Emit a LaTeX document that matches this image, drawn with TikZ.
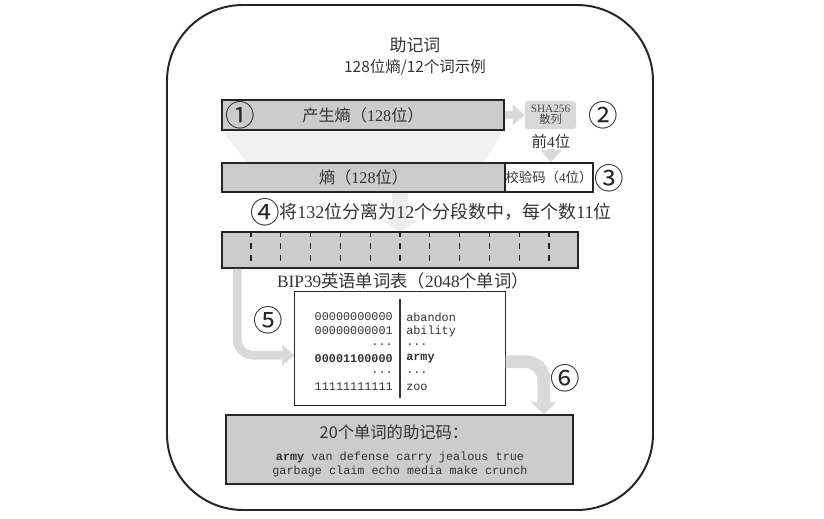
\documentclass[tikz,border=0pt]{standalone}
\usepackage{fontspec}
\setmainfont{Liberation Serif}
\setmonofont{Liberation Mono}
\newfontfamily\cjk{Noto Sans CJK SC}
\usepackage{tikz}
\usetikzlibrary{arrows.meta, positioning, calc}
\newcommand{\zh}[1]{{\cjk #1}}
\newcommand{\tdots}{...}

\begin{document}
\begin{tikzpicture}[x=0.025cm, y=-0.025cm,
	box/.style={draw=black!85, line width=1.1pt, fill=black!20, inner sep=0pt, text=black!80, font=\fontsize{11.5}{13}\selectfont},
	whitebox/.style={box, fill=white},
	hashbox/.style={fill=black!15, rounded corners=2pt, inner sep=0pt, text=black!70, align=center, font=\fontsize{8}{8.5}\selectfont},
	num/.style={font=\cjk\fontsize{21}{21}\selectfont, text=black!85, inner sep=0pt},
	caption/.style={text=black!80, inner sep=0pt},
	code/.style={font=\ttfamily\fontsize{8.4}{9}\selectfont, text=black!80, inner sep=0pt},
	flow/.style={draw=black!15, line width=0.22cm, -{Triangle[width=0.5cm, length=0.3cm]}},
	faint/.style={draw=black!7, line width=0.4cm, -{Triangle[width=0.9cm, length=0.28cm]}},
	divider/.style={black!85, line width=0.9pt, dash pattern=on 0.15cm off 0.15cm}
]
\useasboundingbox (0,0) rectangle (824,519);
\draw[line width=1.4pt, black!85, rounded corners=1.9cm] (167,5) rectangle (653,510);

% title
\node[caption, font=\cjk\fontsize{12}{12}\selectfont] (title) at (415,45) {助记词};
\node[caption, font=\cjk\fontsize{11}{11}\selectfont] (subtitle) at (415,67) {128位熵/12个词示例};

% entropy and checksum
\fill[black!6] (222,130) -- (504,130) -- (483,163) -- (247,163) -- cycle;
\node[box, minimum width=7.05cm, minimum height=0.75cm] (gen) at (363,115) {\zh{产生熵（}128\zh{位）}};
\node[num] (c1) at (240,115) {①};
\node[hashbox, minimum width=1.275cm, minimum height=0.7cm] (sha) at (550.5,115) {SHA256\\[-1pt]\zh{散列}};
\node[num] (c2) at (603,115) {②};
\node[caption, font=\fontsize{11}{11}\selectfont] (first4) at (551,142) {\zh{前}4\zh{位}};
\draw[flow] (gen.east) -- (sha.west);
\node[box, minimum width=7.075cm, minimum height=0.725cm] (ent) at (363.5,177.5) {\zh{熵（}128\zh{位）}};
\node[whitebox, minimum width=2.2cm, minimum height=0.725cm, font=\fontsize{9.5}{10}\selectfont] (chk) at (549,177.5) {\zh{校验码（}4\zh{位）}};
\draw[flow] (first4.south) -- (first4.south |- chk.north);
\node[num] (c3) at (609,178) {③};

% split into 12 words
\node[box, minimum width=8.9cm, minimum height=0.9cm] (bar) at (400,250) {};
\draw[faint] (bar.north |- ent.south) -- (bar.north);
\foreach \k in {1,...,11}
	\draw[divider] ($(bar.north west)!\k/12!(bar.north east)$) -- ($(bar.south west)!\k/12!(bar.south east)$);
\node[num] (c4) at (265,212) {④};
\node[caption, anchor=west, font=\fontsize{12.8}{13}\selectfont] (split) at (279,212) {\zh{将}132\zh{位分离为}12\zh{个分段数中，每个数}11\zh{位}};

% word list
\node[caption, font=\fontsize{12.3}{13}\selectfont] (wl) at (403,281) {BIP39\zh{英语单词表（}2048\zh{个单词）}};
\node[whitebox, minimum width=5.25cm, minimum height=2.825cm, line width=0.7pt] (tbl) at (400,348.5) {};
\draw[black!80, line width=0.8pt] ([yshift=-0.2cm]tbl.north) -- ([yshift=0.2cm]tbl.south);
\foreach \y/\l/\r in {317/00000000000/abandon, 331/00000000001/ability, 345/\tdots/\tdots, 373/\tdots/\tdots, 387/11111111111/zoo} {
	\node[code, anchor=east] (l\y) at (393,\y) {\l};
	\node[code, anchor=west] (r\y) at (406,\y) {\r};
}
\node[code, anchor=east] (l359) at (393,359) {\textbf{00001100000}};
\node[code, anchor=west] (r359) at (406,359) {\textbf{army}};
\draw[flow, rounded corners=0.4cm] ([xshift=0.4cm]bar.south west) |- ([yshift=-0.17cm]tbl.west);
\node[num] (c5) at (268,320) {⑤};

% mnemonic
\node[box, minimum width=8.675cm, minimum height=1.725cm] (mn) at (399.5,449.5) {};
\draw[flow, line width=0.32cm, -{Triangle[width=0.6cm, length=0.3cm]}, rounded corners=0.45cm] ([yshift=-0.33cm]tbl.east) -| ([xshift=-0.75cm]mn.north east);
\node[num] (c6) at (565,378) {⑥};
\node[caption, font=\cjk\fontsize{11.6}{12}\selectfont] (mnt) at (394,432) {20个单词的助记码：};
\node[code] (mn1) at (400,457) {\textbf{army} van defense carry jealous true};
\node[code] (mn2) at (400,471) {garbage claim echo media make crunch};
\end{tikzpicture}
\end{document}
